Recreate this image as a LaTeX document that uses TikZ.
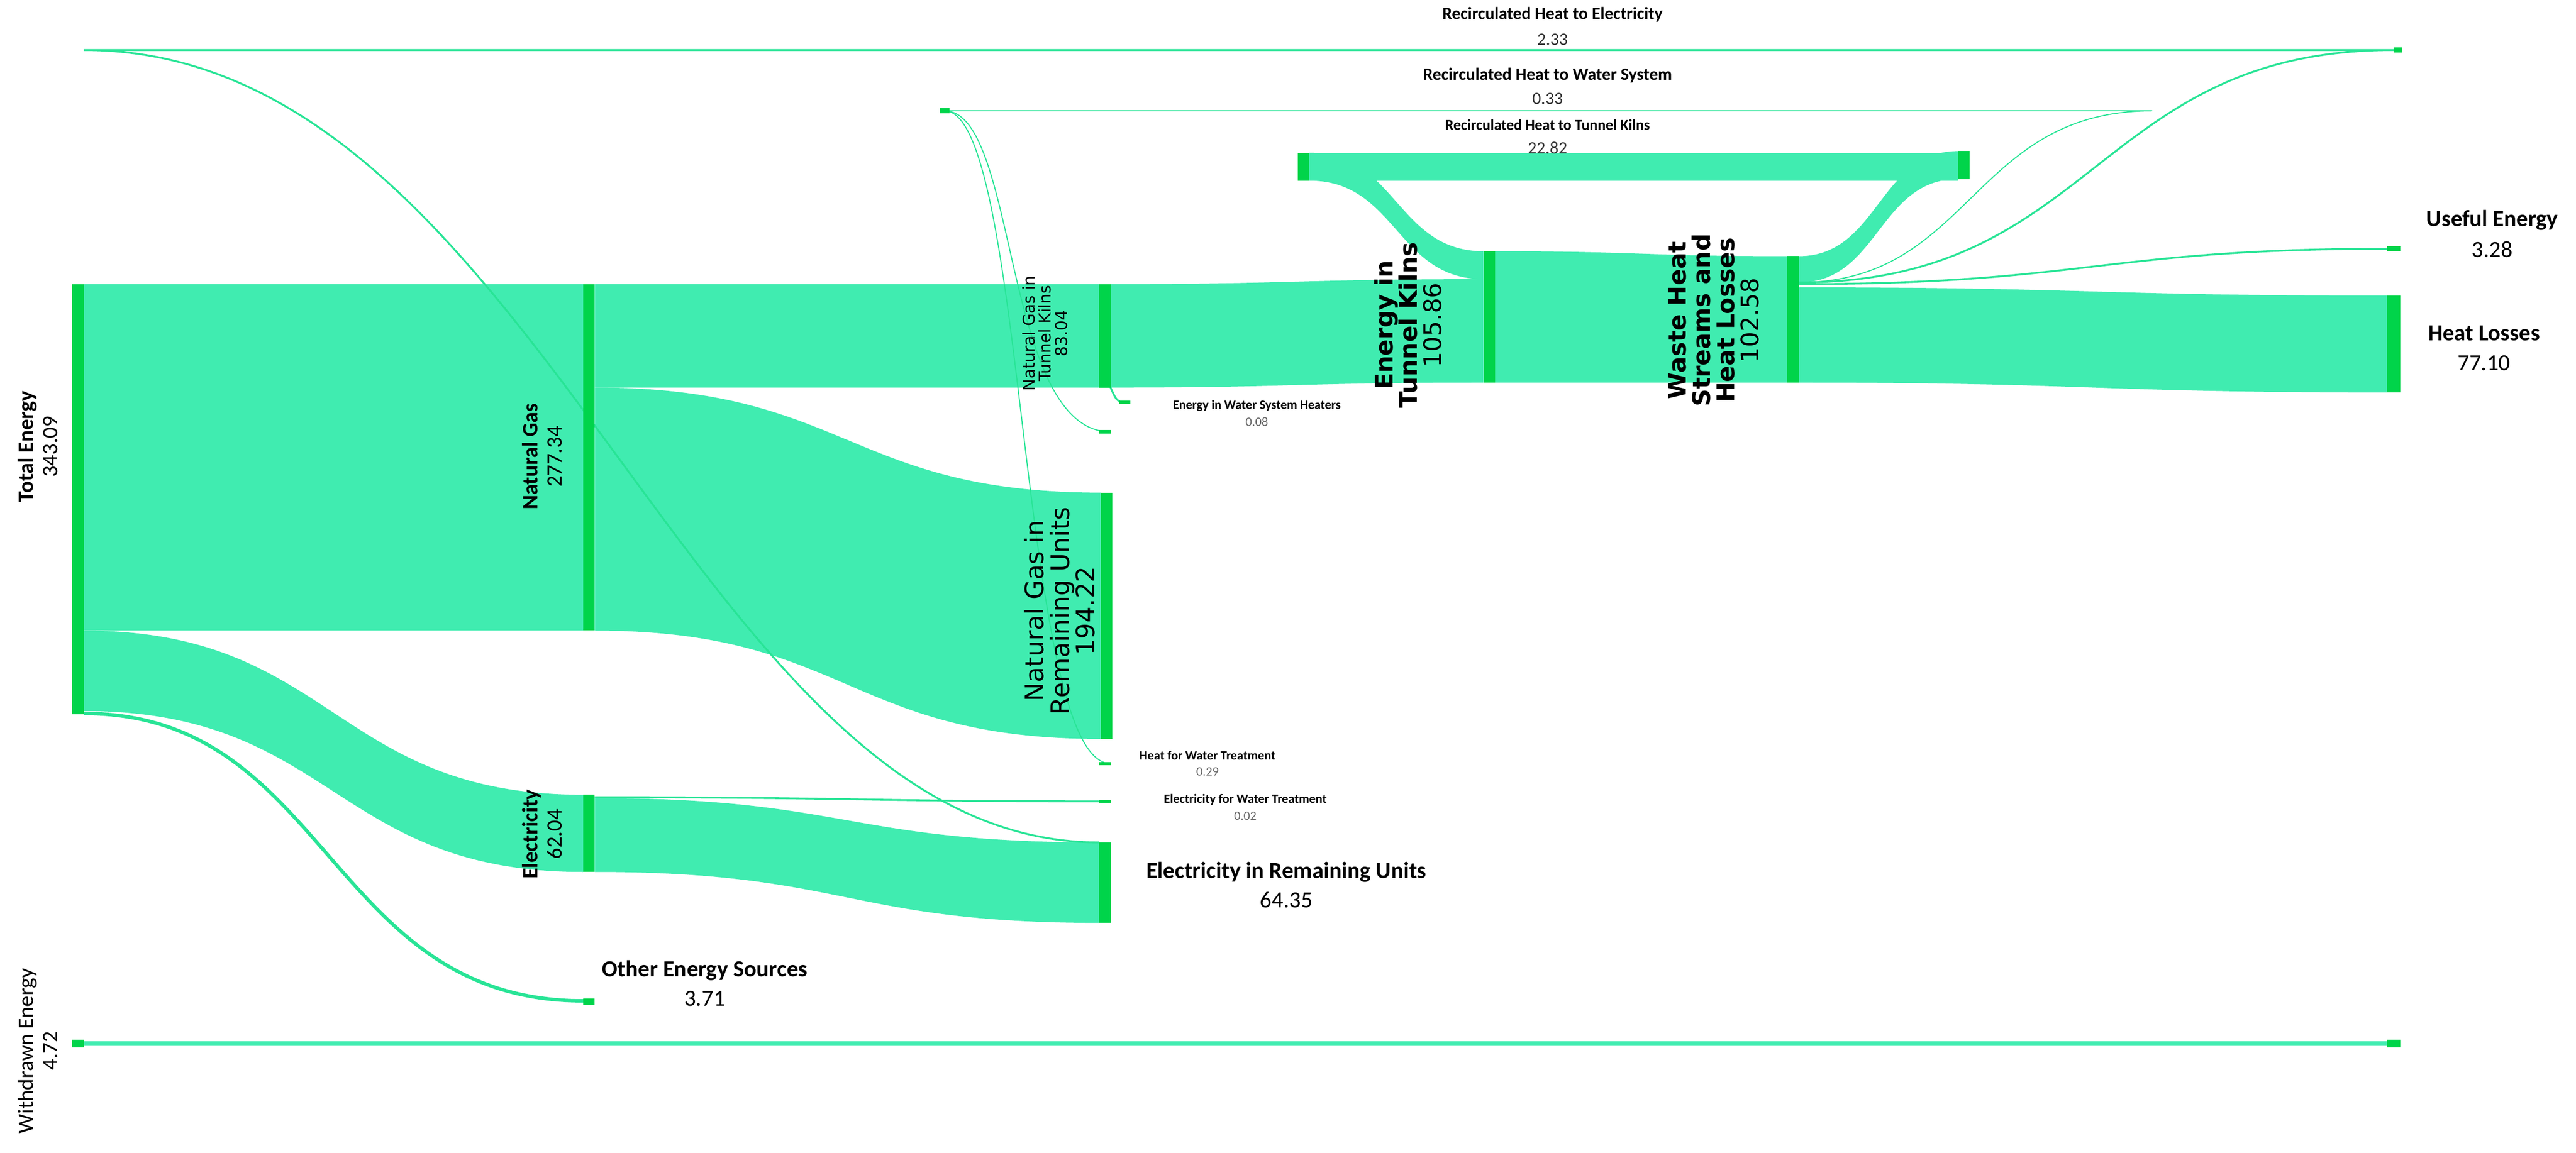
\documentclass[tikz,border=0pt]{standalone}
\usepackage{fontspec}
\setmainfont{Carlito}
\newfontfamily\dv{DejaVu Sans}
\definecolor{lnk}{RGB}{64,236,176}
\definecolor{bar}{RGB}{0,212,74}
\definecolor{lineg}{RGB}{40,228,150}
\newcommand{\band}[6]{%
 \pgfmathsetmacro{\xm}{(#1+#4)/2}%
 \fill[lnk] (#1,#2) .. controls (\xm,#2) and (\xm,#5) .. (#4,#5) -- (#4,#6) .. controls (\xm,#6) and (\xm,#3) .. (#1,#3) -- cycle;}
\newcommand{\fs}[1]{\fontsize{#1}{#1}\selectfont}
\begin{document}
\begin{tikzpicture}[x=0.05cm,y=-0.05cm,
  thin link/.style={draw=lineg,line width=1.6pt},
  barn/.style={fill=bar},
  lab/.style={font=\bfseries\fs{20}},
  num/.style={font=\fs{20}},
  top/.style={font=\bfseries\fs{15}},
  topn/.style={font=\fs{15},text=black!80},
  small/.style={font=\bfseries\fs{11}},
  smalln/.style={font=\fs{11},text=black!60},
  rot/.style={rotate=90,align=center,font=\dv\bfseries\fs{20}}]
\useasboundingbox (0,0) rectangle (1568,702);
% bands
\band{51}{173}{384}{355}{173}{384}
\band{51}{384}{433}{355}{484}{531}
\band{362}{173}{236}{669}{173}{236}
\band{362}{236}{384}{670}{300}{450}
\band{362}{486}{531}{669}{513}{562}
\band{676}{173}{236}{903}{170}{233}
\band{797}{93}{110}{903}{153}{170}
\fill[lnk] (797,93) rectangle (1192,110);
\band{1095}{156}{172}{1192}{92}{109}
\band{910}{153}{233}{1088}{156}{233}
\band{1095}{175}{233}{1453}{180}{239}
% thin links
\draw[lineg,line width=3pt] (51,434.5) .. controls (200,434.5) and (200,609.5) .. (355,609.5);
\draw[lnk,line width=4pt] (51,635.5) -- (1453,635.5);
\draw[thin link] (362,485.5) .. controls (520,485.5) and (520,488) .. (676,488);
\draw[thin link] (1095,173) .. controls (1270,173) and (1280,151.5) .. (1453,151.5);
\draw[thin link] (1095,172) .. controls (1276,172) and (1276,30.5) .. (1457,30.5) -- (51,30.5)
   .. controls (330,30.5) and (420,513) .. (669,513);
\draw[lineg,line width=0.9pt] (1095,172) .. controls (1200,172) and (1200,67.5) .. (1310,67.5) -- (575,67.5);
\draw[lineg,line width=0.9pt] (575,67.5) .. controls (620,67.5) and (610,263) .. (676,263);
\draw[lineg,line width=0.9pt] (575,67.5) .. controls (625,67.5) and (620,465) .. (676,465);
\draw[thin link] (676,236) .. controls (680,245) .. (688,245);
% bars
\fill[barn] (44,173) rectangle (51,435);
\fill[barn] (44,633) rectangle (51,638);
\fill[barn] (355,173) rectangle (362,384);
\fill[barn] (355,484) rectangle (362,531);
\fill[barn] (355,608) rectangle (362,612);
\fill[barn] (669,173) rectangle (676,236);
\fill[barn] (670,300) rectangle (677,450);
\fill[barn] (669,513) rectangle (676,562);
\fill[barn] (903,153) rectangle (910,233);
\fill[barn] (1088,156) rectangle (1095,233);
\fill[barn] (1453,180) rectangle (1461,239);
\fill[barn] (1453,150) rectangle (1461,153);
\fill[barn] (1453,633) rectangle (1461,638);
\fill[barn] (1457,29) rectangle (1462,32);
\fill[barn] (790,93) rectangle (797,110);
\fill[barn] (1192,92) rectangle (1199,109);
\fill[barn] (572,66) rectangle (578,69);
\fill[barn] (669,262) rectangle (676,264);
\fill[barn] (669,464) rectangle (676,466);
\fill[barn] (669,487) rectangle (676,489);
\fill[barn] (681,244) rectangle (688,246);
% labels
\node[rotate=90,align=center,font=\bfseries\fs{19}] (te) at (23,272) {Total Energy\\[2pt]\mdseries 343.09};
\node[rotate=90,align=center,font=\fs{19}] (we) at (23,640) {Withdrawn Energy\\[2pt]4.72};
\node[rotate=90,align=center,font=\bfseries\fs{19}] (ng) at (330,278) {Natural Gas\\[2pt]\mdseries 277.34};
\node[rotate=90,align=center,font=\bfseries\fs{19}] (el) at (330,508) {Electricity\\[2pt]\mdseries 62.04};
\node[rot,font=\dv\fs{14}] (ngtk) at (636,203) {Natural Gas in\\Tunnel Kilns\\83.04};
\node[rot,font=\dv\fs{22}] (ngru) at (645,372) {Natural Gas in\\Remaining Units\\\mdseries 194.22};
\node[rot,font=\dv\bfseries\fs{21}] (etk) at (857,198) {Energy in\\Tunnel Kilns\\\mdseries 105.86};
\node[rot,font=\dv\bfseries\fs{21}] (wh) at (1043,195) {Waste Heat\\Streams and\\Heat Losses\\\mdseries 102.58};
\node[lab] (ueL) at (1517,134) {Useful Energy};
\node[num] (ueN) at (1517,152) {3.28};
\node[lab] (hlL) at (1512,203) {Heat Losses};
\node[num] (hlN) at (1512,221) {77.10};
\node[lab] (oeL) at (429,591) {Other Energy Sources};
\node[num] (oeN) at (429,608) {3.71};
\node[lab] (eruL) at (783,531) {Electricity in Remaining Units};
\node[num] (eruN) at (783,548) {64.35};
\node[top] (r1) at (945,9) {Recirculated Heat to Electricity};
\node[topn] (r1n) at (945,24) {2.33};
\node[top] (r2) at (942,46) {Recirculated Heat to Water System};
\node[topn] (r2n) at (942,60) {0.33};
\node[top,font=\bfseries\fs{13}] (r3) at (942,76) {Recirculated Heat to Tunnel Kilns};
\node[topn] (r3n) at (942,90) {22.82};
\node[small] (ewL) at (765,247) {Energy in Water System Heaters};
\node[smalln] (ewN) at (765,257) {0.08};
\node[small] (hwL) at (735,460) {Heat for Water Treatment};
\node[smalln] (hwN) at (735,470) {0.29};
\node[small] (ewtL) at (758,487) {Electricity for Water Treatment};
\node[smalln] (ewtN) at (758,497) {0.02};
\end{tikzpicture}
\end{document}
